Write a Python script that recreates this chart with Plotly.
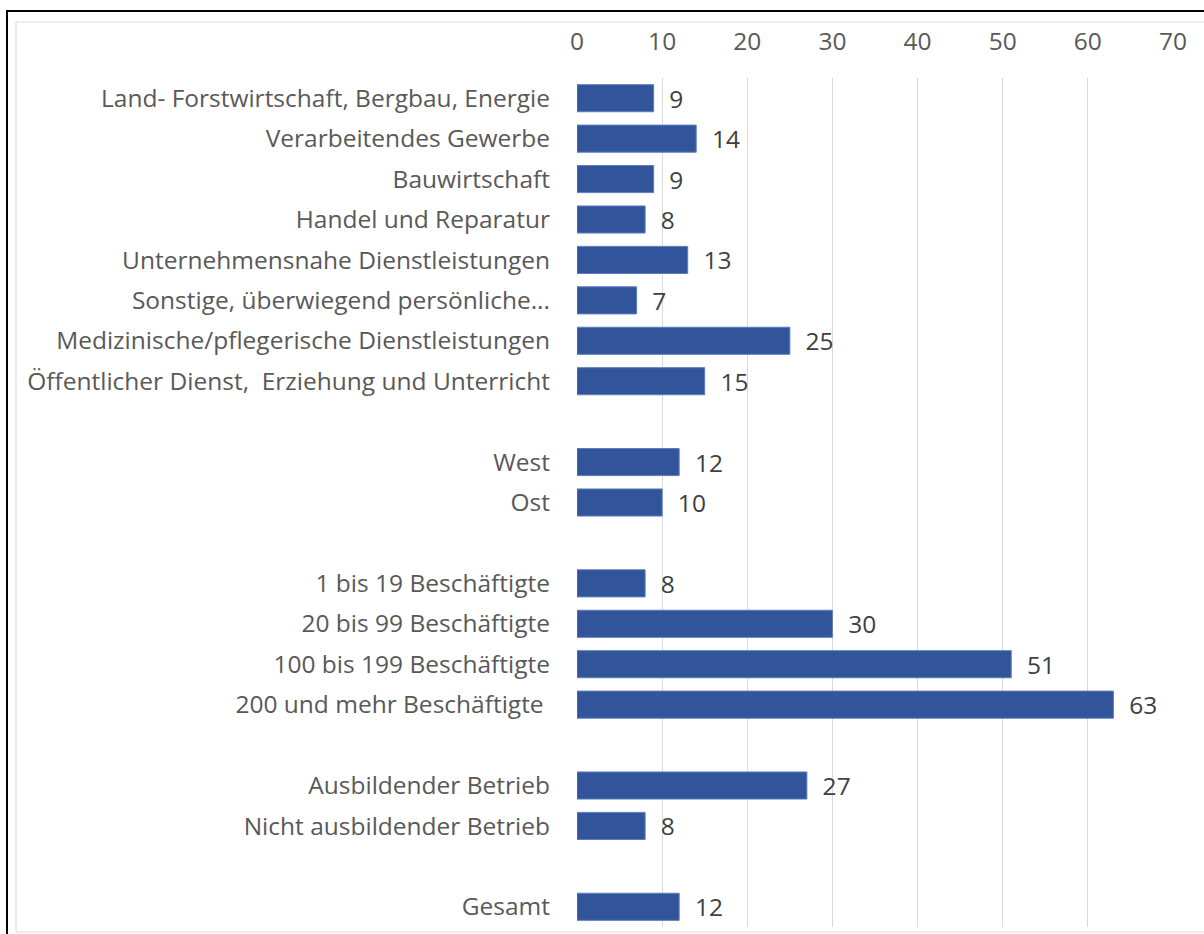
import plotly.graph_objects as go

categories = [
    "Land- Forstwirtschaft, Bergbau, Energie",
    "Verarbeitendes Gewerbe",
    "Bauwirtschaft",
    "Handel und Reparatur",
    "Unternehmensnahe Dienstleistungen",
    "Sonstige, überwiegend persönliche...",
    "Medizinische/pflegerische Dienstleistungen",
    "Öffentlicher Dienst,  Erziehung und Unterricht",
    " ",
    "West",
    "Ost",
    "  ",
    "1 bis 19 Beschäftigte",
    "20 bis 99 Beschäftigte",
    "100 bis 199 Beschäftigte",
    "200 und mehr Beschäftigte\u00a0",
    "   ",
    "Ausbildender Betrieb",
    "Nicht ausbildender Betrieb",
    "    ",
    "Gesamt",
]
values = [9, 14, 9, 8, 13, 7, 25, 15, None, 12, 10, None, 8, 30, 51, 63, None, 27, 8, None, 12]
x_ticks = [0, 10, 20, 30, 40, 50, 60, 70]

W, H = 1204, 934
L, R, T, B = 577, 31, 78, 7
pw, ph = W - L - R, H - T - B
FONT = "Open Sans"
FS = 24.5

def px(x):
    return (x - L) / pw

def py(y):
    return (H - B - y) / ph

labels = ["" if v is None else "\u00a0\u00a0" + str(v) for v in values]

fig = go.Figure(go.Bar(
    y=categories,
    x=values,
    orientation="h",
    marker=dict(color="#31549B", line=dict(color="#5B7DBF", width=1)),
    width=0.67,
    text=labels,
    textposition="outside",
    constraintext="none",
    textfont=dict(color="#404040", size=FS, family=FONT),
    cliponaxis=False,
    hoverinfo="x+y",
))

fig.update_layout(
    width=W, height=H,
    margin=dict(l=L, r=R, t=T, b=B),
    paper_bgcolor="white",
    plot_bgcolor="white",
    showlegend=False,
    font=dict(family=FONT, size=FS, color="#595959"),
    xaxis=dict(
        side="top",
        range=[0, 70],
        tickvals=x_ticks,
        showgrid=True,
        gridcolor="#D9D9D9",
        gridwidth=1,
        zeroline=False,
        showline=False,
        ticks="",
        ticklabelstandoff=22,
        tickfont=dict(size=FS, color="#595959"),
        fixedrange=True,
    ),
    yaxis=dict(
        type="category",
        categoryorder="array",
        categoryarray=categories,
        autorange="reversed",
        showgrid=False,
        zeroline=False,
        showline=False,
        ticks="",
        ticklabelstandoff=26,
        tickfont=dict(size=FS, color="#595959"),
        fixedrange=True,
    ),
    shapes=[
        dict(type="rect", xref="paper", yref="paper",
             x0=px(7), x1=px(1215), y0=py(11), y1=py(945),
             line=dict(color="black", width=2), fillcolor="rgba(0,0,0,0)", layer="above"),
        dict(type="rect", xref="paper", yref="paper",
             x0=px(16), x1=px(1215), y0=py(22), y1=py(932),
             line=dict(color="#D9D9D9", width=1), fillcolor="rgba(0,0,0,0)", layer="below"),
    ],
)

fig.write_html(
    "out.html",
    config={"displayModeBar": False},
    post_script="document.body.style.margin='0';document.body.style.overflow='hidden';",
)
